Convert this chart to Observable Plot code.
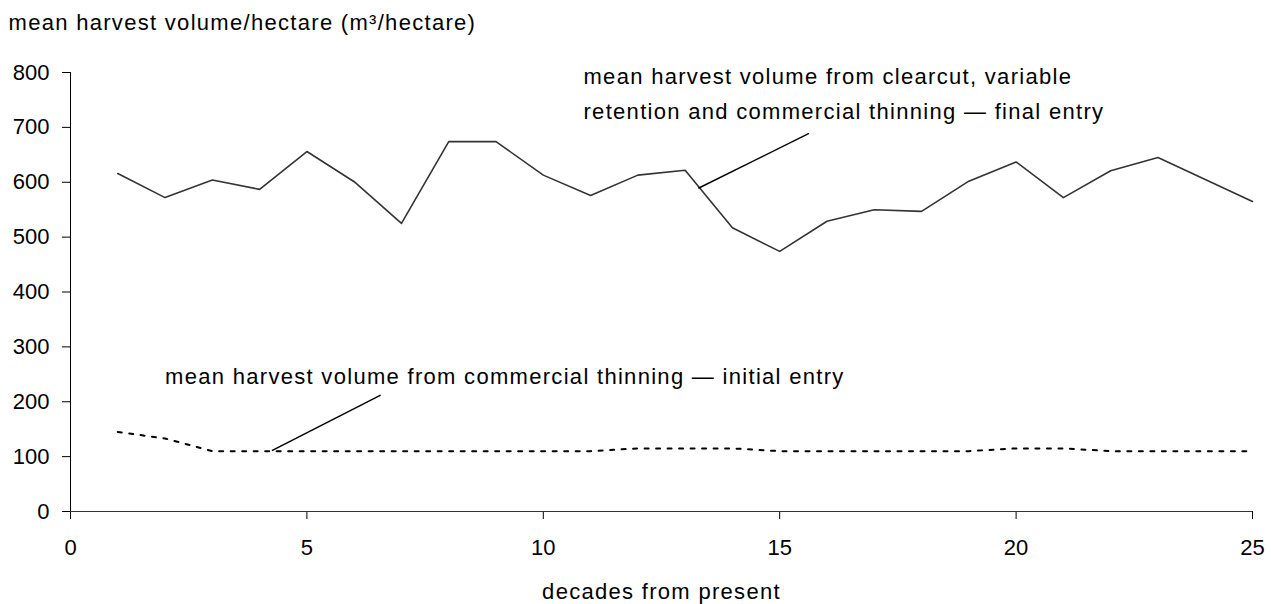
<!DOCTYPE html>
<html>
<head>
<meta charset="utf-8">
<script src="https://cdn.jsdelivr.net/npm/d3@7"></script>
<script src="https://cdn.jsdelivr.net/npm/@observablehq/plot@0.6"></script>
<style>
  html, body { margin: 0; padding: 0; background: white; }
  #chart g[aria-label="text"] text { letter-spacing: 1.3px; }
</style>
</head>
<body>
<div id="chart"></div>
<script>
// ---- data ----
const decades = [1, 2, 3, 4, 5, 6, 7, 8, 9, 10, 11, 12, 13, 14, 15, 16, 17, 18, 19, 20, 21, 22, 23, 24, 25];
const finalEntry = [616, 572, 604, 587, 656, 601, 525, 674, 674, 613, 576, 613, 622, 517, 474, 529, 550, 547, 602, 637, 572, 621, 645, 605, 565];
const initialEntry = [145, 133, 110, 110, 110, 110, 110, 110, 110, 110, 110, 115, 115, 115, 110, 110, 110, 110, 110, 115, 115, 110, 110, 110, 110];
const xTicks = [0, 5, 10, 15, 20, 25];
const yTicks = [0, 100, 200, 300, 400, 500, 600, 700, 800];
const yTitle = "mean harvest volume/hectare (m³/hectare)";
const xTitle = "decades from present";
const finalLabel = "mean harvest volume from clearcut, variable\nretention and commercial thinning — final entry";
const initialLabel = "mean harvest volume from commercial thinning — initial entry";
// label anchor and leader positions in data units (decade, m³/hectare)
const finalLabelAt = {x: 10.85, y: 767};
const initialLabelAt = {x: 2.0, y: 246};
const finalLeader = {x1: 13.28, y1: 589, x2: 15.62, y2: 689};
const initialLeader = {x1: 4.26, y1: 111, x2: 6.56, y2: 212};

const finalData = decades.map((d, i) => ({decade: d, v: finalEntry[i]}));
const initialData = decades.map((d, i) => ({decade: d, v: initialEntry[i]}));

const FS = 22;
const chart = Plot.plot({
  width: 1271,
  height: 604,
  marginLeft: 70,
  marginRight: 19,
  marginTop: 72,
  marginBottom: 93,
  style: {fontFamily: "'Liberation Sans', Arial, sans-serif", fontSize: FS + "px", background: "white", color: "black"},
  x: {domain: [0, 25], label: null},
  y: {domain: [0, 800], label: null},
  marks: [
    Plot.axisY({ticks: yTicks, tickSize: 8, tickPadding: 13, label: null, fontSize: FS}),
    Plot.axisX({ticks: xTicks, tickSize: 8, tickPadding: 20, label: null, fontSize: FS}),
    Plot.ruleX([0], {stroke: "black", strokeWidth: 1}),
    Plot.ruleY([0], {stroke: "#333", strokeWidth: 1}),
    Plot.line(finalData, {x: "decade", y: "v", stroke: "#333", strokeWidth: 1.6}),
    Plot.line(initialData, {x: "decade", y: "v", stroke: "black", strokeWidth: 2, strokeDasharray: "4,7.5"}),
    Plot.link([finalLeader, initialLeader], {x1: "x1", y1: "y1", x2: "x2", y2: "y2", stroke: "black", strokeWidth: 1.5}),
    Plot.text([finalLabel], {x: finalLabelAt.x, y: finalLabelAt.y, text: d => d, textAnchor: "start", lineAnchor: "middle", lineHeight: 1.6, fontSize: FS, fill: "black"}),
    Plot.text([initialLabel], {x: initialLabelAt.x, y: initialLabelAt.y, text: d => d, textAnchor: "start", lineAnchor: "middle", fontSize: FS, fill: "black"}),
    Plot.text([yTitle], {frameAnchor: "top-left", dx: -62, dy: -50, text: d => d, textAnchor: "start", lineAnchor: "middle", fontSize: FS, fill: "black"}),
    Plot.text([xTitle], {frameAnchor: "bottom", dy: 80, text: d => d, textAnchor: "middle", lineAnchor: "middle", fontSize: FS, fill: "black"})
  ]
});
document.getElementById("chart").appendChild(chart);
</script>
</body>
</html>
